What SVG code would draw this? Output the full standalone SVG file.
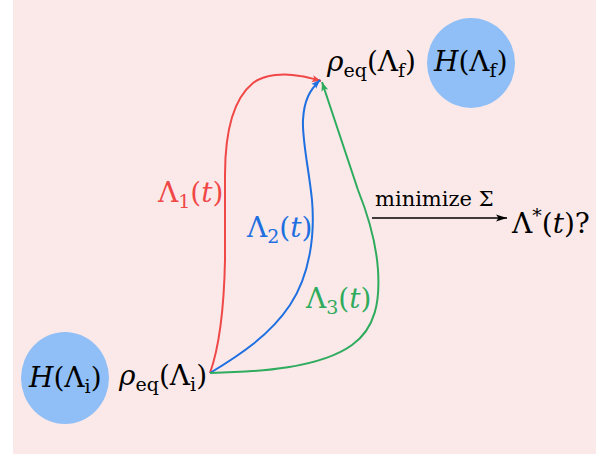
<svg xmlns="http://www.w3.org/2000/svg" width="608" height="458" viewBox="0 0 608 458">
<style>
text{font-family:"DejaVu Serif",serif}
.m{font-size:28px;fill:#000}
.it{font-style:italic}
.s{font-size:19px}
.c{fill:none;stroke-width:2}
.blob{fill:#8fbff6}
</style>
<defs>
<marker id="ar" viewBox="0 -4 10 8" refX="9" refY="0" markerWidth="10" markerHeight="8" markerUnits="userSpaceOnUse" orient="auto"><path d="M0,-3.5 L9,0 L0,3.5 L2,0 Z" fill="#f04747"/></marker>
<marker id="ab" viewBox="0 -4 10 8" refX="9" refY="0" markerWidth="10" markerHeight="8" markerUnits="userSpaceOnUse" orient="auto"><path d="M0,-3.5 L9,0 L0,3.5 L2,0 Z" fill="#1e6fe0"/></marker>
<marker id="ag" viewBox="0 -4 10 8" refX="9" refY="0" markerWidth="10" markerHeight="8" markerUnits="userSpaceOnUse" orient="auto"><path d="M0,-3.5 L9,0 L0,3.5 L2,0 Z" fill="#2fab5e"/></marker>
<marker id="ak" viewBox="0 -4 12 8" refX="11" refY="0" markerWidth="12" markerHeight="8" markerUnits="userSpaceOnUse" orient="auto"><path d="M0,-3.5 L11,0 L0,3.5 L2.5,0 Z" fill="#000"/></marker>
</defs>
<rect x="13" y="0" width="583" height="454" fill="#fbe9e9"/>
<g id="node-H-i">
<ellipse class="blob" cx="65" cy="378" rx="44" ry="46"/>
<text class="m" x="29" y="387"><tspan class="it">H</tspan>(Λ<tspan class="s" dy="6">i</tspan><tspan dy="-6">)</tspan></text>
</g>
<g id="node-rho-i">
<text class="m" x="119" y="385"><tspan class="it">ρ</tspan><tspan class="s" dy="6">eq</tspan><tspan dy="-6">(Λ</tspan><tspan class="s" dy="6">i</tspan><tspan dy="-6">)</tspan></text>
</g>
<g id="node-rho-f">
<text class="m" x="327" y="71"><tspan class="it">ρ</tspan><tspan class="s" dy="6">eq</tspan><tspan dy="-6">(Λ</tspan><tspan class="s" dy="6">f</tspan><tspan dy="-6">)</tspan></text>
</g>
<g id="node-H-f">
<ellipse class="blob" cx="471" cy="63" rx="44" ry="45"/>
<text class="m" x="434" y="71"><tspan class="it">H</tspan>(Λ<tspan class="s" dy="6">f</tspan><tspan dy="-6">)</tspan></text>
</g>
<g id="node-opt">
<text class="m" x="512" y="233">Λ<tspan class="s" dy="-11">*</tspan><tspan dy="11">(</tspan><tspan class="it">t</tspan>)?</text>
</g>
<g id="connectors">
<path class="c" stroke="#f04747" d="M210,373 C220,345 224,310 225,260 L225,175 C225,135 232,100 253,83 C265,74 285,73 300,76 C308,77 314,79 321,81" marker-end="url(#ar)"/>
<path class="c" stroke="#1e6fe0" d="M210,373 C240,355 270,335 290,305 C310,275 315,235 312,200 C309,170 302,140 303,120 C304,100 310,90 320,80" marker-end="url(#ab)"/>
<path class="c" stroke="#2fab5e" d="M210,373 C260,372 320,368 352,345 C376,328 380,300 378,270 C376,240 368,215 358,190 L322,82" marker-end="url(#ag)"/>
<line x1="372" y1="218" x2="507" y2="218" stroke="#000" stroke-width="1.5" marker-end="url(#ak)"/>
<text class="m" x="158" y="202" style="fill:#f04747">Λ<tspan class="s" dy="6">1</tspan><tspan dy="-6">(</tspan><tspan class="it">t</tspan>)</text>
<text class="m" x="247" y="237" style="fill:#1e6fe0">Λ<tspan class="s" dy="6">2</tspan><tspan dy="-6">(</tspan><tspan class="it">t</tspan>)</text>
<text class="m" x="306" y="308" style="fill:#2fab5e">Λ<tspan class="s" dy="6">3</tspan><tspan dy="-6">(</tspan><tspan class="it">t</tspan>)</text>
<text class="m" x="375" y="206" style="font-size:21px">minimize Σ</text>
</g>
</svg>
